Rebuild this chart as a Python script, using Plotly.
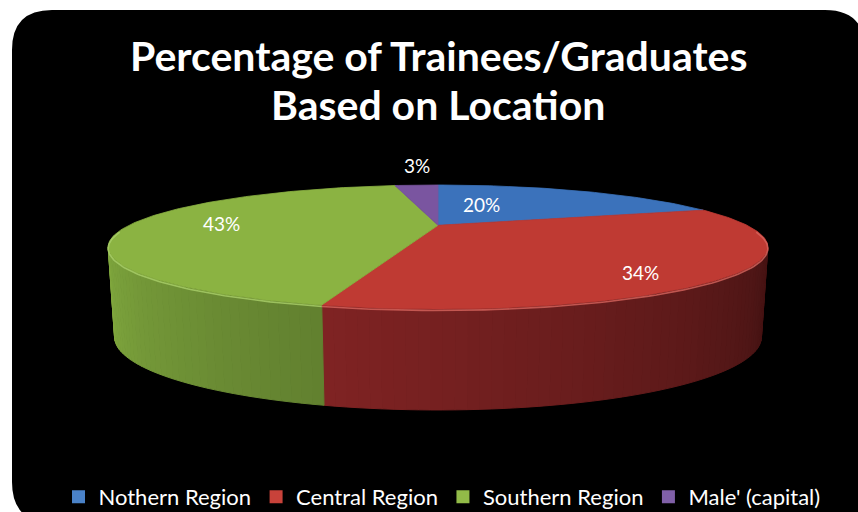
import numpy as np
import plotly.graph_objects as go

# ---- data ----
categories = ["Nothern Region", "Central Region", "Southern Region", "Male' (capital)"]
values = [20, 34, 43, 3]
title_lines = ["Percentage of Trainees/Graduates", "Based on Location"]

# ---- style ----
top_colors = ["#3b72bb", "#bf3a33", "#8bb342", "#7a55a0"]
side_colors = ["#2c5a96", "#a82e2e", "#80a83e", "#5e3f80"]
rim_colors = ["#6a9ad6", "#d8655e", "#aad06a", "#9c7cc0"]
legend_colors = ["#4a82c8", "#c8423a", "#92bb48", "#8060a8"]
label_offsets = [(-50, 2), (45, 21), (-32, -1), (-7, -33)]
FONT = "Lato"

W, H = 858, 512
CX, CY, R, RY = 438.0, 225.3, 309.0, 54.4
CYB, RB, RBY = 311.5, 303.0, 64.0
P = 0.35


def proj(theta_deg, f=1.0, bottom=False):
    t = np.radians(theta_deg)
    w = 1.0 / (1.0 + P * f * np.cos(t))
    if bottom:
        return CX + RB * f * np.sin(t) * w, CYB - RBY * f * np.cos(t) * w
    return CX + R * f * np.sin(t) * w, CY - RY * f * np.cos(t) * w


def shade(hexc, s):
    h = hexc.lstrip("#")
    rgb = [int(h[i:i + 2], 16) for i in (0, 2, 4)]
    rgb = [max(0, min(255, int(round(c * s)))) for c in rgb]
    return "rgb(%d,%d,%d)" % tuple(rgb)


fig = go.Figure()

total = float(sum(values))
bounds = np.concatenate([[0.0], np.cumsum(values) / total * 360.0])

th_right = np.degrees(np.arccos(-P))
th_left = 360.0 - th_right

# side walls (front visible part), drawn as shaded strips
for i, c in enumerate(categories):
    a0, a1 = bounds[i], bounds[i + 1]
    s0, s1 = max(a0, th_right), min(a1, th_left)
    if s1 <= s0:
        continue
    n = max(2, int(np.ceil((s1 - s0) / 1.5)))
    th = np.linspace(s0, s1, n + 1)
    for k in range(n):
        ta, tb = th[k], th[k + 1]
        xa, ya = proj(ta)
        xb, yb = proj(tb)
        xbb, ybb = proj(tb, bottom=True)
        xab, yab = proj(ta, bottom=True)
        tm = (ta + tb) / 2
        u = (th_left - tm) / (th_left - th_right)
        s = 1.0 - 0.6 * u
        col = shade(side_colors[i], s)
        fig.add_trace(go.Scatter(
            x=[xa, xb, xbb, xab, xa], y=[ya, yb, ybb, yab, ya],
            fill="toself", fillcolor=col, mode="lines",
            line=dict(color=col, width=1), hoverinfo="skip", showlegend=False))

# top faces
for i, c in enumerate(categories):
    a0, a1 = bounds[i], bounds[i + 1]
    n = max(3, int(np.ceil((a1 - a0) / 1.0)))
    th = np.linspace(a0, a1, n + 1)
    xs, ys = proj(th)
    x = np.concatenate([[CX], xs, [CX]])
    y = np.concatenate([[CY], ys, [CY]])
    fig.add_trace(go.Scatter(
        x=x, y=y, fill="toself", fillcolor=top_colors[i], mode="lines",
        line=dict(color=top_colors[i], width=0.8), hoverinfo="skip",
        showlegend=False, name=c))

# bevel highlight on the front rim
for i, c in enumerate(categories):
    a0, a1 = bounds[i], bounds[i + 1]
    s0, s1 = max(a0, th_right - 15), min(a1, th_left + 15)
    if s1 <= s0:
        continue
    th = np.linspace(s0, s1, 80)
    xs, ys = proj(th)
    fig.add_trace(go.Scatter(
        x=xs, y=ys + 1.5, mode="lines", line=dict(color=rim_colors[i], width=1.6),
        opacity=0.8, hoverinfo="skip", showlegend=False))

# data labels
for i, c in enumerate(categories):
    mid = (bounds[i] + bounds[i + 1]) / 2
    lx, ly = proj(mid, 0.6)
    dx, dy = label_offsets[i]
    fig.add_annotation(x=lx + dx, y=ly + dy, text="%d%%" % values[i],
                       showarrow=False, xref="x", yref="y",
                       font=dict(family=FONT, size=19, color="white"))

# legend entries
for i, c in enumerate(categories):
    fig.add_trace(go.Scatter(
        x=[None], y=[None], mode="markers", name=c,
        marker=dict(symbol="square", size=13, color=legend_colors[i]),
        showlegend=True))

# title
fig.add_annotation(x=438, y=55, xref="x", yref="y", text="<b>%s</b>" % title_lines[0],
                   showarrow=False, font=dict(family=FONT, size=41, color="white"))
fig.add_annotation(x=438, y=104, xref="x", yref="y", text="<b>%s</b>" % title_lines[1],
                   showarrow=False, font=dict(family=FONT, size=41, color="white"))

# black rounded background
bg_path = ("M 12,50 Q 12,10 52,10 L 825,10 Q 865,10 865,50 L 865,530 "
           "L 53,530 L 53,523 Q 12,523 12,482 Z")
fig.add_shape(type="path", path=bg_path, xref="x", yref="y",
              fillcolor="black", line=dict(width=0), layer="below")

fig.update_layout(
    width=W, height=H,
    margin=dict(l=0, r=0, t=0, b=0, autoexpand=False),
    paper_bgcolor="white", plot_bgcolor="rgba(0,0,0,0)",
    xaxis=dict(range=[0, W], visible=False, fixedrange=True),
    yaxis=dict(range=[H, 0], visible=False, fixedrange=True),
    showlegend=True,
    legend=dict(orientation="h", x=442 / W, xanchor="center",
                y=(512 - 497) / H, yanchor="middle",
                bgcolor="rgba(0,0,0,0)", font=dict(family=FONT, size=22, color="white"),
                itemwidth=30, tracegroupgap=0),
    hovermode=False,
)

fig.write_html("out.html", config={"displayModeBar": False},
               post_script="document.body.style.margin='0';document.body.style.overflow='hidden';")
